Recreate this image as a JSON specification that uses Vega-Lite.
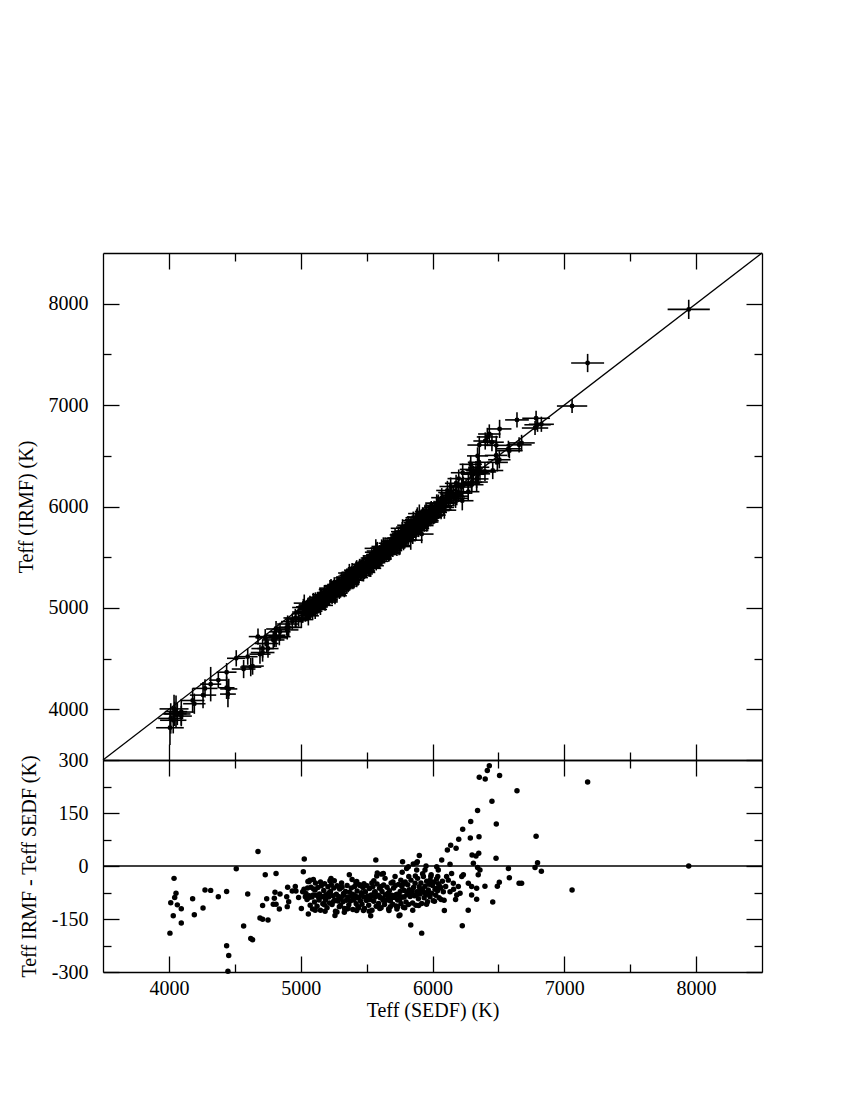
{
"$schema": "https://vega.github.io/schema/vega-lite/v6.json",
"padding": {"left": 16, "top": 250, "right": 5, "bottom": 5},
"spacing": 0,
"bounds": "flush",
"config": {
  "font": "Liberation Serif",
  "view": {"stroke": null},
  "axis": {"grid": false, "domainColor": "black", "domainWidth": 1.3, "tickColor": "black", "tickWidth": 1.3, "labelColor": "black", "labelFont": "Liberation Serif", "labelFontSize": 20, "titleFont": "Liberation Serif", "titleFontSize": 20, "titleFontWeight": "normal", "titleColor": "black", "labelFlush": false, "labelOverlap": false}
},
"datasets": {
"diag": [{"v": 3500}, {"v": 8500}],
"zero": [{"a": 3500, "b": 8500, "z": 0}],
"stars": [
{"s":4008,"i":3818,"d":-190,"ex":105,"ey":170},
{"s":4014,"i":3910,"d":-104,"ex":95,"ey":150},
{"s":4033,"i":3892,"d":-141,"ex":100,"ey":130},
{"s":4039,"i":4004,"d":-35,"ex":110,"ey":140},
{"s":4044,"i":3955,"d":-89,"ex":90,"ey":120},
{"s":4054,"i":3977,"d":-77,"ex":85,"ey":160},
{"s":4064,"i":3954,"d":-110,"ex":100,"ey":110},
{"s":4094,"i":3973,"d":-121,"ex":95,"ey":130},
{"s":4094,"i":3933,"d":-161,"ex":80,"ey":100},
{"s":4180,"i":4087,"d":-93,"ex":90,"ey":120},
{"s":4193,"i":4055,"d":-138,"ex":85,"ey":100},
{"s":4259,"i":4140,"d":-119,"ex":100,"ey":130},
{"s":4274,"i":4206,"d":-68,"ex":95,"ey":90},
{"s":4317,"i":4248,"d":-69,"ex":80,"ey":170},
{"s":4375,"i":4288,"d":-87,"ex":70,"ey":80},
{"s":4438,"i":4366,"d":-72,"ex":75,"ey":90},
{"s":4438,"i":4212,"d":-226,"ex":60,"ey":110},
{"s":4454,"i":4201,"d":-253,"ex":65,"ey":100},
{"s":4448,"i":4150,"d":-298,"ex":60,"ey":130},
{"s":4511,"i":4503,"d":-8,"ex":70,"ey":80},
{"s":4567,"i":4397,"d":-170,"ex":90,"ey":90},
{"s":4598,"i":4519,"d":-79,"ex":75,"ey":80},
{"s":4621,"i":4416,"d":-205,"ex":80,"ey":90},
{"s":4635,"i":4426,"d":-209,"ex":85,"ey":85},
{"s":4676,"i":4717,"d":41,"ex":70,"ey":80},
{"s":4691,"i":4544,"d":-147,"ex":80,"ey":95},
{"s":4711,"i":4560,"d":-151,"ex":90,"ey":90},
{"s":4711,"i":4599,"d":-112,"ex":85,"ey":90},
{"s":4731,"i":4706,"d":-25,"ex":75,"ey":85},
{"s":4742,"i":4649,"d":-93,"ex":90,"ey":95},
{"s":4752,"i":4599,"d":-153,"ex":80,"ey":90},
{"s":4792,"i":4684,"d":-108,"ex":85,"ey":80},
{"s":4800,"i":4709,"d":-91,"ex":95,"ey":95},
{"s":4805,"i":4731,"d":-74,"ex":80,"ey":85},
{"s":4813,"i":4792,"d":-21,"ex":75,"ey":80},
{"s":4813,"i":4705,"d":-108,"ex":90,"ey":90},
{"s":4838,"i":4716,"d":-122,"ex":85,"ey":85},
{"s":4843,"i":4764,"d":-79,"ex":80,"ey":90},
{"s":4894,"i":4807,"d":-87,"ex":90,"ey":80},
{"s":4898,"i":4783,"d":-115,"ex":85,"ey":95},
{"s":4901,"i":4841,"d":-60,"ex":80,"ey":85},
{"s":4909,"i":4808,"d":-101,"ex":95,"ey":85},
{"s":4936,"i":4865,"d":-71,"ex":85,"ey":80},
{"s":4959,"i":4901,"d":-58,"ex":90,"ey":90},
{"s":4964,"i":4893,"d":-71,"ex":80,"ey":85},
{"s":4984,"i":4895,"d":-89,"ex":85,"ey":80},
{"s":5005,"i":4885,"d":-120,"ex":90,"ey":85},
{"s":5015,"i":4942,"d":-73,"ex":80,"ey":90},
{"s":5020,"i":5004,"d":-16,"ex":85,"ey":85},
{"s":5025,"i":4959,"d":-66,"ex":90,"ey":90},
{"s":5027,"i":5047,"d":20,"ex":80,"ey":85},
{"s":5035,"i":4948,"d":-87,"ex":85,"ey":85},
{"s":5055,"i":5011,"d":-44,"ex":90,"ey":90},
{"s":5058,"i":4922,"d":-136,"ex":80,"ey":95},
{"s":5096,"i":5058,"d":-38,"ex":85,"ey":90},
{"s":5063,"i":5019,"d":-44,"ex":80,"ey":85},
{"s":5109,"i":5041,"d":-68,"ex":90,"ey":90},
{"s":5222,"i":5180,"d":-42,"ex":85,"ey":95},
{"s":5255,"i":5213,"d":-42,"ex":80,"ey":90},
{"s":5260,"i":5120,"d":-140,"ex":90,"ey":85},
{"s":5293,"i":5178,"d":-115,"ex":85,"ey":90},
{"s":5331,"i":5200,"d":-131,"ex":80,"ey":95},
{"s":5369,"i":5344,"d":-25,"ex":85,"ey":90},
{"s":5419,"i":5372,"d":-47,"ex":90,"ey":85},
{"s":5425,"i":5381,"d":-44,"ex":80,"ey":90},
{"s":5425,"i":5299,"d":-126,"ex":85,"ey":95},
{"s":5476,"i":5350,"d":-126,"ex":90,"ey":90},
{"s":5531,"i":5390,"d":-141,"ex":80,"ey":85},
{"s":5570,"i":5587,"d":17,"ex":85,"ey":90},
{"s":5577,"i":5549,"d":-28,"ex":90,"ey":95},
{"s":5581,"i":5561,"d":-20,"ex":80,"ey":90},
{"s":5614,"i":5591,"d":-23,"ex":85,"ey":85},
{"s":5627,"i":5606,"d":-21,"ex":90,"ey":90},
{"s":5716,"i":5686,"d":-30,"ex":80,"ey":95},
{"s":5736,"i":5621,"d":-115,"ex":85,"ey":90},
{"s":5746,"i":5605,"d":-141,"ex":90,"ey":85},
{"s":5753,"i":5614,"d":-139,"ex":80,"ey":90},
{"s":5770,"i":5752,"d":-18,"ex":85,"ey":95},
{"s":5773,"i":5785,"d":12,"ex":90,"ey":90},
{"s":5804,"i":5797,"d":-7,"ex":80,"ey":85},
{"s":5817,"i":5815,"d":-2,"ex":85,"ey":90},
{"s":5835,"i":5668,"d":-167,"ex":90,"ey":95},
{"s":5854,"i":5860,"d":6,"ex":80,"ey":90},
{"s":5880,"i":5889,"d":9,"ex":85,"ey":85},
{"s":5880,"i":5869,"d":-11,"ex":90,"ey":90},
{"s":5885,"i":5897,"d":12,"ex":80,"ey":95},
{"s":5900,"i":5930,"d":30,"ex":85,"ey":90},
{"s":5918,"i":5728,"d":-190,"ex":90,"ey":90},
{"s":5943,"i":5932,"d":-11,"ex":80,"ey":85},
{"s":5951,"i":5951,"d":0,"ex":85,"ey":90},
{"s":5982,"i":5942,"d":-40,"ex":90,"ey":95},
{"s":6032,"i":6030,"d":-2,"ex":80,"ey":90},
{"s":6044,"i":6033,"d":-11,"ex":85,"ey":85},
{"s":6057,"i":5999,"d":-58,"ex":90,"ey":90},
{"s":6070,"i":6087,"d":17,"ex":80,"ey":95},
{"s":6082,"i":6009,"d":-73,"ex":85,"ey":90},
{"s":6090,"i":5964,"d":-126,"ex":90,"ey":85},
{"s":6107,"i":6077,"d":-30,"ex":80,"ey":90},
{"s":6113,"i":6158,"d":45,"ex":85,"ey":95},
{"s":6133,"i":6138,"d":5,"ex":90,"ey":90},
{"s":6133,"i":6060,"d":-73,"ex":80,"ey":85},
{"s":6138,"i":6197,"d":59,"ex":85,"ey":90},
{"s":6145,"i":6124,"d":-21,"ex":90,"ey":95},
{"s":6158,"i":6109,"d":-49,"ex":80,"ey":90},
{"s":6179,"i":6229,"d":50,"ex":85,"ey":85},
{"s":6184,"i":6102,"d":-82,"ex":90,"ey":90},
{"s":6196,"i":6138,"d":-58,"ex":80,"ey":95},
{"s":6199,"i":6275,"d":76,"ex":85,"ey":90},
{"s":6209,"i":6132,"d":-77,"ex":90,"ey":85},
{"s":6222,"i":6192,"d":-30,"ex":80,"ey":90},
{"s":6226,"i":6057,"d":-169,"ex":85,"ey":95},
{"s":6229,"i":6333,"d":104,"ex":90,"ey":90},
{"s":6234,"i":6209,"d":-25,"ex":80,"ey":85},
{"s":6271,"i":6146,"d":-125,"ex":85,"ey":90},
{"s":6272,"i":6223,"d":-49,"ex":90,"ey":95},
{"s":6287,"i":6366,"d":79,"ex":80,"ey":90},
{"s":6290,"i":6416,"d":126,"ex":85,"ey":85},
{"s":6297,"i":6215,"d":-82,"ex":90,"ey":90},
{"s":6297,"i":6239,"d":-58,"ex":80,"ey":95},
{"s":6300,"i":6331,"d":31,"ex":85,"ey":90},
{"s":6310,"i":6318,"d":8,"ex":90,"ey":85},
{"s":6330,"i":6358,"d":28,"ex":80,"ey":90},
{"s":6335,"i":6241,"d":-94,"ex":85,"ey":95},
{"s":6335,"i":6272,"d":-63,"ex":90,"ey":90},
{"s":6342,"i":6499,"d":157,"ex":80,"ey":85},
{"s":6342,"i":6338,"d":-4,"ex":85,"ey":90},
{"s":6347,"i":6322,"d":-25,"ex":90,"ey":95},
{"s":6351,"i":6387,"d":36,"ex":80,"ey":90},
{"s":6353,"i":6436,"d":83,"ex":85,"ey":85},
{"s":6355,"i":6606,"d":251,"ex":90,"ey":90},
{"s":6360,"i":6349,"d":-11,"ex":80,"ey":95},
{"s":6398,"i":6341,"d":-57,"ex":85,"ey":90},
{"s":6400,"i":6646,"d":246,"ex":90,"ey":85},
{"s":6416,"i":6686,"d":270,"ex":80,"ey":90},
{"s":6431,"i":6715,"d":284,"ex":85,"ey":95},
{"s":6451,"i":6634,"d":183,"ex":90,"ey":90},
{"s":6457,"i":6355,"d":-102,"ex":80,"ey":85},
{"s":6482,"i":6504,"d":22,"ex":85,"ey":90},
{"s":6484,"i":6603,"d":119,"ex":90,"ey":95},
{"s":6492,"i":6435,"d":-57,"ex":80,"ey":90},
{"s":6507,"i":6461,"d":-46,"ex":85,"ey":85},
{"s":6509,"i":6765,"d":256,"ex":90,"ey":90},
{"s":6576,"i":6569,"d":-7,"ex":95,"ey":80},
{"s":6583,"i":6550,"d":-33,"ex":100,"ey":75},
{"s":6641,"i":6854,"d":213,"ex":90,"ey":75},
{"s":6657,"i":6608,"d":-49,"ex":95,"ey":75},
{"s":6676,"i":6627,"d":-49,"ex":100,"ey":80},
{"s":6778,"i":6774,"d":-4,"ex":100,"ey":70},
{"s":6786,"i":6870,"d":84,"ex":105,"ey":75},
{"s":6797,"i":6806,"d":9,"ex":100,"ey":70},
{"s":6826,"i":6811,"d":-15,"ex":95,"ey":75},
{"s":7059,"i":6991,"d":-68,"ex":115,"ey":70},
{"s":7177,"i":7415,"d":238,"ex":125,"ey":90},
{"s":7944,"i":7944,"d":0,"ex":160,"ey":95},
{"s":5040,"i":4962,"d":-78,"ex":85,"ey":90},
{"s":5048,"i":4953,"d":-95,"ex":95,"ey":85},
{"s":5052,"i":4990,"d":-62,"ex":75,"ey":95},
{"s":5066,"i":4982,"d":-84,"ex":90,"ey":90},
{"s":5072,"i":4961,"d":-111,"ex":80,"ey":80},
{"s":5078,"i":5018,"d":-60,"ex":85,"ey":90},
{"s":5085,"i":4997,"d":-88,"ex":95,"ey":95},
{"s":5090,"i":4968,"d":-122,"ex":75,"ey":85},
{"s":5098,"i":5033,"d":-65,"ex":90,"ey":90},
{"s":5105,"i":5003,"d":-102,"ex":80,"ey":80},
{"s":5112,"i":5064,"d":-48,"ex":85,"ey":90},
{"s":5118,"i":5035,"d":-83,"ex":95,"ey":95},
{"s":5124,"i":5010,"d":-114,"ex":75,"ey":85},
{"s":5130,"i":5069,"d":-61,"ex":90,"ey":90},
{"s":5137,"i":5047,"d":-90,"ex":80,"ey":80},
{"s":5143,"i":5064,"d":-79,"ex":85,"ey":90},
{"s":5150,"i":5025,"d":-125,"ex":95,"ey":95},
{"s":5156,"i":5100,"d":-56,"ex":75,"ey":85},
{"s":5162,"i":5075,"d":-87,"ex":90,"ey":90},
{"s":5168,"i":5061,"d":-107,"ex":80,"ey":80},
{"s":5175,"i":5106,"d":-69,"ex":85,"ey":90},
{"s":5181,"i":5131,"d":-50,"ex":95,"ey":95},
{"s":5188,"i":5091,"d":-97,"ex":75,"ey":85},
{"s":5194,"i":5113,"d":-81,"ex":90,"ey":90},
{"s":5200,"i":5082,"d":-118,"ex":80,"ey":80},
{"s":5207,"i":5148,"d":-59,"ex":85,"ey":90},
{"s":5213,"i":5125,"d":-88,"ex":95,"ey":95},
{"s":5219,"i":5114,"d":-105,"ex":75,"ey":85},
{"s":5226,"i":5154,"d":-72,"ex":90,"ey":90},
{"s":5232,"i":5179,"d":-53,"ex":80,"ey":80},
{"s":5238,"i":5129,"d":-109,"ex":85,"ey":90},
{"s":5245,"i":5161,"d":-84,"ex":95,"ey":95},
{"s":5251,"i":5189,"d":-62,"ex":75,"ey":85},
{"s":5258,"i":5162,"d":-96,"ex":90,"ey":90},
{"s":5264,"i":5136,"d":-128,"ex":80,"ey":80},
{"s":5270,"i":5190,"d":-80,"ex":85,"ey":90},
{"s":5276,"i":5220,"d":-56,"ex":95,"ey":95},
{"s":5283,"i":5184,"d":-99,"ex":75,"ey":85},
{"s":5289,"i":5203,"d":-86,"ex":90,"ey":90},
{"s":5296,"i":5231,"d":-65,"ex":80,"ey":80},
{"s":5302,"i":5190,"d":-112,"ex":85,"ey":90},
{"s":5308,"i":5219,"d":-89,"ex":95,"ey":95},
{"s":5314,"i":5254,"d":-60,"ex":75,"ey":85},
{"s":5321,"i":5220,"d":-101,"ex":90,"ey":90},
{"s":5327,"i":5244,"d":-83,"ex":80,"ey":80},
{"s":5333,"i":5213,"d":-120,"ex":85,"ey":90},
{"s":5340,"i":5268,"d":-72,"ex":95,"ey":95},
{"s":5346,"i":5249,"d":-97,"ex":75,"ey":85},
{"s":5352,"i":5297,"d":-55,"ex":90,"ey":90},
{"s":5359,"i":5271,"d":-88,"ex":80,"ey":80},
{"s":5365,"i":5255,"d":-110,"ex":85,"ey":90},
{"s":5371,"i":5297,"d":-74,"ex":95,"ey":95},
{"s":5377,"i":5278,"d":-99,"ex":75,"ey":85},
{"s":5384,"i":5322,"d":-62,"ex":90,"ey":90},
{"s":5390,"i":5304,"d":-86,"ex":80,"ey":80},
{"s":5396,"i":5273,"d":-123,"ex":85,"ey":90},
{"s":5403,"i":5307,"d":-96,"ex":95,"ey":95},
{"s":5409,"i":5351,"d":-58,"ex":75,"ey":85},
{"s":5415,"i":5331,"d":-84,"ex":90,"ey":90},
{"s":5421,"i":5314,"d":-107,"ex":80,"ey":80},
{"s":5428,"i":5357,"d":-71,"ex":85,"ey":90},
{"s":5434,"i":5319,"d":-115,"ex":95,"ey":95},
{"s":5440,"i":5351,"d":-89,"ex":75,"ey":85},
{"s":5447,"i":5394,"d":-53,"ex":90,"ey":90},
{"s":5453,"i":5355,"d":-98,"ex":80,"ey":80},
{"s":5459,"i":5378,"d":-81,"ex":85,"ey":90},
{"s":5465,"i":5357,"d":-108,"ex":95,"ey":95},
{"s":5472,"i":5411,"d":-61,"ex":75,"ey":85},
{"s":5478,"i":5391,"d":-87,"ex":90,"ey":90},
{"s":5484,"i":5364,"d":-120,"ex":80,"ey":80},
{"s":5491,"i":5418,"d":-73,"ex":85,"ey":90},
{"s":5497,"i":5400,"d":-97,"ex":95,"ey":95},
{"s":5503,"i":5447,"d":-56,"ex":75,"ey":85},
{"s":5510,"i":5425,"d":-85,"ex":90,"ey":90},
{"s":5516,"i":5405,"d":-111,"ex":80,"ey":80},
{"s":5522,"i":5458,"d":-64,"ex":85,"ey":90},
{"s":5528,"i":5433,"d":-95,"ex":95,"ey":95},
{"s":5535,"i":5453,"d":-82,"ex":75,"ey":85},
{"s":5541,"i":5416,"d":-125,"ex":90,"ey":90},
{"s":5547,"i":5488,"d":-59,"ex":80,"ey":80},
{"s":5554,"i":5454,"d":-100,"ex":85,"ey":90},
{"s":5560,"i":5486,"d":-74,"ex":95,"ey":95},
{"s":5566,"i":5478,"d":-88,"ex":75,"ey":85},
{"s":5573,"i":5459,"d":-114,"ex":90,"ey":90},
{"s":5579,"i":5528,"d":-51,"ex":80,"ey":80},
{"s":5585,"i":5502,"d":-83,"ex":85,"ey":90},
{"s":5591,"i":5485,"d":-106,"ex":95,"ey":95},
{"s":5598,"i":5535,"d":-63,"ex":75,"ey":85},
{"s":5604,"i":5514,"d":-90,"ex":90,"ey":90},
{"s":5610,"i":5492,"d":-118,"ex":80,"ey":80},
{"s":5617,"i":5545,"d":-72,"ex":85,"ey":90},
{"s":5623,"i":5532,"d":-91,"ex":95,"ey":95},
{"s":5629,"i":5575,"d":-54,"ex":75,"ey":85},
{"s":5636,"i":5527,"d":-109,"ex":90,"ey":90},
{"s":5642,"i":5561,"d":-81,"ex":80,"ey":80},
{"s":5648,"i":5551,"d":-97,"ex":85,"ey":90},
{"s":5655,"i":5595,"d":-60,"ex":95,"ey":95},
{"s":5661,"i":5574,"d":-87,"ex":75,"ey":85},
{"s":5667,"i":5545,"d":-122,"ex":90,"ey":90},
{"s":5673,"i":5603,"d":-70,"ex":80,"ey":80},
{"s":5680,"i":5581,"d":-99,"ex":85,"ey":90},
{"s":5686,"i":5638,"d":-48,"ex":95,"ey":95},
{"s":5692,"i":5609,"d":-83,"ex":75,"ey":85},
{"s":5699,"i":5591,"d":-108,"ex":90,"ey":90},
{"s":5705,"i":5643,"d":-62,"ex":80,"ey":80},
{"s":5711,"i":5622,"d":-89,"ex":85,"ey":90},
{"s":5717,"i":5661,"d":-56,"ex":95,"ey":95},
{"s":5724,"i":5611,"d":-113,"ex":75,"ey":85},
{"s":5730,"i":5650,"d":-80,"ex":90,"ey":90},
{"s":5736,"i":5640,"d":-96,"ex":80,"ey":80},
{"s":5742,"i":5690,"d":-52,"ex":85,"ey":90},
{"s":5749,"i":5664,"d":-85,"ex":95,"ey":95},
{"s":5755,"i":5683,"d":-72,"ex":75,"ey":85},
{"s":5761,"i":5655,"d":-106,"ex":90,"ey":90},
{"s":5768,"i":5710,"d":-58,"ex":80,"ey":80},
{"s":5774,"i":5686,"d":-88,"ex":85,"ey":90},
{"s":5780,"i":5663,"d":-117,"ex":95,"ey":95},
{"s":5786,"i":5717,"d":-69,"ex":75,"ey":85},
{"s":5793,"i":5748,"d":-45,"ex":90,"ey":90},
{"s":5799,"i":5697,"d":-102,"ex":80,"ey":80},
{"s":5805,"i":5724,"d":-81,"ex":85,"ey":90},
{"s":5812,"i":5759,"d":-53,"ex":95,"ey":95},
{"s":5818,"i":5709,"d":-109,"ex":75,"ey":85},
{"s":5824,"i":5757,"d":-67,"ex":90,"ey":90},
{"s":5830,"i":5744,"d":-86,"ex":80,"ey":80},
{"s":5837,"i":5797,"d":-40,"ex":85,"ey":90},
{"s":5843,"i":5765,"d":-78,"ex":95,"ey":95},
{"s":5849,"i":5744,"d":-105,"ex":75,"ey":85},
{"s":5856,"i":5795,"d":-61,"ex":90,"ey":90},
{"s":5862,"i":5778,"d":-84,"ex":80,"ey":80},
{"s":5868,"i":5819,"d":-49,"ex":85,"ey":90},
{"s":5874,"i":5763,"d":-111,"ex":95,"ey":95},
{"s":5881,"i":5808,"d":-73,"ex":75,"ey":85},
{"s":5887,"i":5852,"d":-35,"ex":90,"ey":90},
{"s":5893,"i":5800,"d":-93,"ex":80,"ey":80},
{"s":5899,"i":5840,"d":-59,"ex":85,"ey":90},
{"s":5906,"i":5827,"d":-79,"ex":95,"ey":95},
{"s":5912,"i":5864,"d":-48,"ex":75,"ey":85},
{"s":5918,"i":5812,"d":-106,"ex":90,"ey":90},
{"s":5924,"i":5859,"d":-65,"ex":80,"ey":80},
{"s":5931,"i":5901,"d":-30,"ex":85,"ey":90},
{"s":5937,"i":5847,"d":-90,"ex":95,"ey":95},
{"s":5943,"i":5886,"d":-57,"ex":75,"ey":85},
{"s":5950,"i":5870,"d":-80,"ex":90,"ey":90},
{"s":5956,"i":5913,"d":-43,"ex":80,"ey":80},
{"s":5962,"i":5861,"d":-101,"ex":85,"ey":90},
{"s":5968,"i":5900,"d":-68,"ex":95,"ey":95},
{"s":5975,"i":5923,"d":-52,"ex":75,"ey":85},
{"s":5981,"i":5894,"d":-87,"ex":90,"ey":90},
{"s":5987,"i":5957,"d":-30,"ex":80,"ey":80},
{"s":5994,"i":5917,"d":-77,"ex":85,"ey":90},
{"s":6000,"i":5945,"d":-55,"ex":95,"ey":95},
{"s":6006,"i":5908,"d":-98,"ex":75,"ey":85},
{"s":6012,"i":5967,"d":-45,"ex":90,"ey":90},
{"s":6019,"i":5953,"d":-66,"ex":80,"ey":80},
{"s":6025,"i":5942,"d":-83,"ex":85,"ey":90},
{"s":6031,"i":5994,"d":-37,"ex":95,"ey":95},
{"s":6038,"i":5968,"d":-70,"ex":75,"ey":85},
{"s":6044,"i":5994,"d":-50,"ex":90,"ey":90},
{"s":6050,"i":5960,"d":-90,"ex":80,"ey":80},
{"s":6062,"i":6000,"d":-62,"ex":85,"ey":90},
{"s":6075,"i":6032,"d":-43,"ex":95,"ey":95},
{"s":6088,"i":5991,"d":-97,"ex":75,"ey":85},
{"s":6100,"i":6042,"d":-58,"ex":90,"ey":90},
{"s":6120,"i":6080,"d":-40,"ex":80,"ey":80},
{"s":6160,"i":6094,"d":-66,"ex":85,"ey":90},
{"s":6175,"i":6080,"d":-95,"ex":95,"ey":95},
{"s":5060,"i":4970,"d":-90,"ex":85,"ey":90},
{"s":5095,"i":5013,"d":-82,"ex":90,"ey":85},
{"s":5140,"i":5044,"d":-96,"ex":80,"ey":90},
{"s":5180,"i":5095,"d":-85,"ex":85,"ey":95},
{"s":5215,"i":5139,"d":-76,"ex":90,"ey":90},
{"s":5250,"i":5150,"d":-100,"ex":80,"ey":85},
{"s":5290,"i":5197,"d":-93,"ex":85,"ey":90},
{"s":5325,"i":5247,"d":-78,"ex":90,"ey":95},
{"s":5355,"i":5260,"d":-95,"ex":80,"ey":90},
{"s":5395,"i":5315,"d":-80,"ex":85,"ey":85},
{"s":5430,"i":5340,"d":-90,"ex":90,"ey":90},
{"s":5462,"i":5386,"d":-76,"ex":80,"ey":95},
{"s":5500,"i":5403,"d":-97,"ex":85,"ey":90},
{"s":5530,"i":5444,"d":-86,"ex":90,"ey":85},
{"s":5565,"i":5492,"d":-73,"ex":80,"ey":90},
{"s":5595,"i":5510,"d":-85,"ex":85,"ey":95},
{"s":5625,"i":5528,"d":-97,"ex":90,"ey":90},
{"s":5660,"i":5582,"d":-78,"ex":80,"ey":85},
{"s":5690,"i":5600,"d":-90,"ex":85,"ey":90},
{"s":5720,"i":5638,"d":-82,"ex":90,"ey":95},
{"s":5752,"i":5658,"d":-94,"ex":80,"ey":90},
{"s":5785,"i":5697,"d":-88,"ex":85,"ey":85},
{"s":5815,"i":5739,"d":-76,"ex":90,"ey":90},
{"s":5845,"i":5775,"d":-70,"ex":80,"ey":95},
{"s":5875,"i":5793,"d":-82,"ex":85,"ey":90},
{"s":5905,"i":5837,"d":-68,"ex":90,"ey":85},
{"s":5935,"i":5861,"d":-74,"ex":80,"ey":90},
{"s":5965,"i":5885,"d":-80,"ex":85,"ey":95},
{"s":5995,"i":5943,"d":-52,"ex":90,"ey":90},
{"s":6030,"i":5966,"d":-64,"ex":80,"ey":85},
{"s":5070,"i":5030,"d":-40,"ex":85,"ey":90},
{"s":5110,"i":4985,"d":-125,"ex":90,"ey":95},
{"s":5150,"i":5105,"d":-45,"ex":80,"ey":90},
{"s":5185,"i":5057,"d":-128,"ex":85,"ey":85},
{"s":5230,"i":5195,"d":-35,"ex":90,"ey":90},
{"s":5275,"i":5145,"d":-130,"ex":80,"ey":95},
{"s":5310,"i":5262,"d":-48,"ex":85,"ey":90},
{"s":5350,"i":5228,"d":-122,"ex":90,"ey":85},
{"s":5390,"i":5352,"d":-38,"ex":80,"ey":90},
{"s":5440,"i":5322,"d":-118,"ex":85,"ey":95},
{"s":5480,"i":5430,"d":-50,"ex":90,"ey":90},
{"s":5520,"i":5392,"d":-128,"ex":80,"ey":85},
{"s":5555,"i":5513,"d":-42,"ex":85,"ey":90},
{"s":5600,"i":5480,"d":-120,"ex":90,"ey":95},
{"s":5640,"i":5605,"d":-35,"ex":80,"ey":90},
{"s":5670,"i":5544,"d":-126,"ex":85,"ey":85},
{"s":5700,"i":5655,"d":-45,"ex":90,"ey":90},
{"s":5730,"i":5608,"d":-122,"ex":80,"ey":95},
{"s":5760,"i":5720,"d":-40,"ex":85,"ey":90},
{"s":5790,"i":5672,"d":-118,"ex":90,"ey":85},
{"s":5820,"i":5790,"d":-30,"ex":80,"ey":90},
{"s":5850,"i":5725,"d":-125,"ex":85,"ey":95},
{"s":5870,"i":5842,"d":-28,"ex":90,"ey":90},
{"s":5895,"i":5783,"d":-112,"ex":80,"ey":85},
{"s":5925,"i":5903,"d":-22,"ex":85,"ey":90},
{"s":5955,"i":5847,"d":-108,"ex":90,"ey":95},
{"s":5990,"i":5965,"d":-25,"ex":80,"ey":90},
{"s":6015,"i":5915,"d":-100,"ex":85,"ey":85},
{"s":6040,"i":6010,"d":-30,"ex":90,"ey":90},
{"s":6065,"i":5970,"d":-95,"ex":80,"ey":95},
{"s":5290,"i":5230,"d":-60,"ex":85,"ey":90},
{"s":5450,"i":5395,"d":-55,"ex":90,"ey":85},
{"s":5610,"i":5552,"d":-58,"ex":80,"ey":90},
{"s":5780,"i":5730,"d":-50,"ex":85,"ey":95},
{"s":5180,"i":5070,"d":-110,"ex":90,"ey":90},
{"s":5360,"i":5240,"d":-120,"ex":80,"ey":85},
{"s":5540,"i":5492,"d":-48,"ex":85,"ey":90},
{"s":5680,"i":5565,"d":-115,"ex":90,"ey":95}
]
},
"vconcat": [
{
  "width": 659,
  "height": 507,
  "resolve": {"axis": {"x": "independent", "y": "independent"}},
  "layer": [
    {
      "data": {"name": "diag"},
      "mark": {"type": "line", "color": "black", "strokeWidth": 1.3},
      "encoding": {
        "x": {"field": "v", "type": "quantitative", "scale": {"domain": [3500, 8500], "nice": false, "zero": false},
          "axis": {"orient": "bottom", "values": [4000,4500,5000,5500,6000,6500,7000,7500,8000], "labels": false, "title": null,
            "tickSize": {"condition": {"test": "datum.value % 1000 === 0", "value": -16}, "value": -8}}},
        "y": {"field": "v", "type": "quantitative", "scale": {"domain": [3500, 8500], "nice": false, "zero": false},
          "axis": {"orient": "left", "values": [4000,4500,5000,5500,6000,6500,7000,7500,8000],
            "labelExpr": "datum.value % 1000 === 0 ? '' + datum.value : ''", "labelPadding": 31, "labelBaseline": "middle",
            "title": "Teff (IRMF) (K)", "titlePadding": 12,
            "tickSize": {"condition": {"test": "datum.value % 1000 === 0", "value": -16}, "value": -8}}}
      }
    },
    {
      "data": {"name": "stars"},
      "mark": {"type": "errorbar", "ticks": false, "color": "black", "thickness": 1.6},
      "encoding": {
        "x": {"field": "s", "type": "quantitative", "axis": null},
        "xError": {"field": "ex"},
        "y": {"field": "i", "type": "quantitative", "axis": null}
      }
    },
    {
      "data": {"name": "stars"},
      "mark": {"type": "errorbar", "ticks": false, "color": "black", "thickness": 1.6},
      "encoding": {
        "y": {"field": "i", "type": "quantitative", "axis": null},
        "yError": {"field": "ey"},
        "x": {"field": "s", "type": "quantitative", "axis": null}
      }
    },
    {
      "data": {"name": "stars"},
      "mark": {"type": "circle", "color": "black", "opacity": 1, "size": 24},
      "encoding": {
        "x": {"field": "s", "type": "quantitative",
          "axis": {"orient": "top", "values": [4000,4500,5000,5500,6000,6500,7000,7500,8000], "labels": false, "title": null,
            "tickSize": {"condition": {"test": "datum.value % 1000 === 0", "value": -16}, "value": -8}}},
        "y": {"field": "i", "type": "quantitative",
          "axis": {"orient": "right", "values": [4000,4500,5000,5500,6000,6500,7000,7500,8000], "labels": false, "title": null,
            "tickSize": {"condition": {"test": "datum.value % 1000 === 0", "value": -16}, "value": -8}}}
      }
    }
  ]
},
{
  "width": 659,
  "height": 212,
  "resolve": {"axis": {"x": "independent", "y": "independent"}},
  "layer": [
    {
      "data": {"name": "zero"},
      "mark": {"type": "rule", "color": "black", "strokeWidth": 1.3},
      "encoding": {
        "x": {"field": "a", "type": "quantitative", "scale": {"domain": [3500, 8500], "nice": false, "zero": false},
          "axis": {"orient": "top", "values": [4000,4500,5000,5500,6000,6500,7000,7500,8000], "labels": false, "title": null,
            "tickSize": {"condition": {"test": "datum.value % 1000 === 0", "value": -16}, "value": -8}}},
        "x2": {"field": "b"},
        "y": {"field": "z", "type": "quantitative", "scale": {"domain": [-300, 300], "nice": false, "zero": false},
          "axis": {"orient": "right", "values": [-300,-225,-150,-75,0,75,150,225,300], "labels": false, "title": null,
            "tickSize": {"condition": {"test": "datum.value % 150 === 0", "value": -16}, "value": -8}}}
      }
    },
    {
      "data": {"name": "stars"},
      "mark": {"type": "circle", "color": "black", "opacity": 1, "size": 30},
      "encoding": {
        "x": {"field": "s", "type": "quantitative",
          "axis": {"orient": "bottom", "values": [4000,4500,5000,5500,6000,6500,7000,7500,8000],
            "labelExpr": "datum.value % 1000 === 0 ? '' + datum.value : ''", "labelPadding": 22,
            "title": "Teff (SEDF) (K)", "titlePadding": -6,
            "tickSize": {"condition": {"test": "datum.value % 1000 === 0", "value": -16}, "value": -8}}},
        "y": {"field": "d", "type": "quantitative",
          "axis": {"orient": "left", "values": [-300,-225,-150,-75,0,75,150,225,300],
            "labelExpr": "datum.value % 150 === 0 ? '' + datum.value : ''", "labelPadding": 31, "labelBaseline": "middle",
            "title": "Teff IRMF - Teff SEDF (K)", "titlePadding": 12,
            "tickSize": {"condition": {"test": "datum.value % 150 === 0", "value": -16}, "value": -8}}}
      }
    }
  ]
}
]
}
